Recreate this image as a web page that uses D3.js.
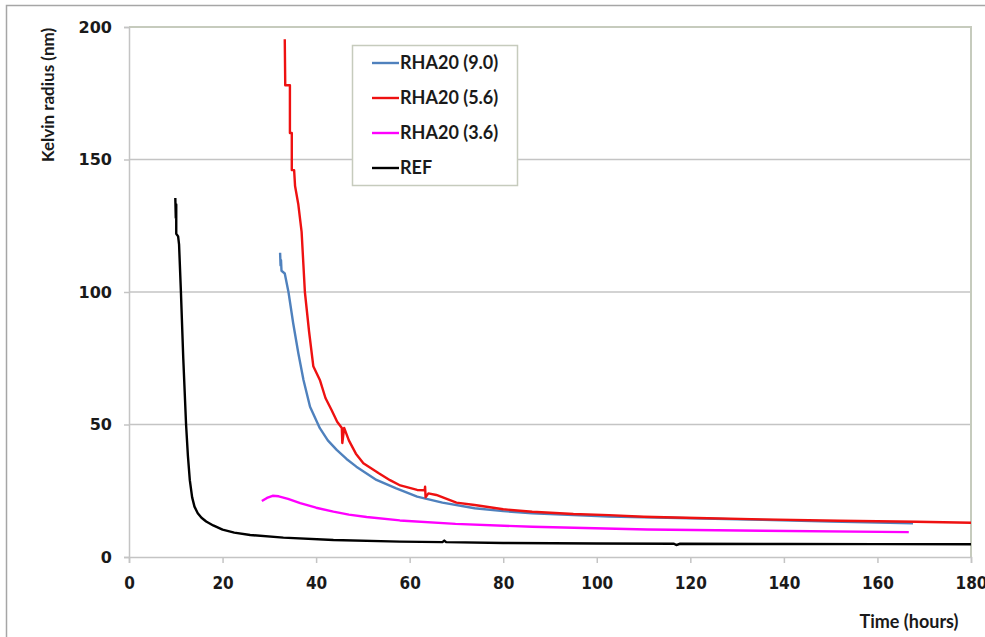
<!DOCTYPE html>
<meta charset="utf-8">
<style>
  body { margin: 0; background: #fff; }
</style>

<!-- Load d3.js -->
<script src="https://d3js.org/d3.v7.min.js"></script>

<div id="my_dataviz"></div>

<script>

// series names and colours
var seriesNames = ["RHA20 (9.0)", "RHA20 (5.6)", "RHA20 (3.6)", "REF"];
var seriesColors = ["#4f81bd", "#ee1111", "#ff00ff", "#000000"];

// [time (hours), kelvin radius (nm)]
var rha90 = [[32.3,114.8],[32.4,110],[32.5,112],[32.6,108],[33.3,107],[34.1,99.9],[35.1,88.2],[36.2,76.9],[37.3,66.8],[38.7,56.7],[40.8,48.6],[42.5,44],[44.4,40.4],[46.5,37],[48.6,34.1],[52.9,29.1],[57,26],[61.6,22.8],[67,20.5],[73.9,18.4],[80,17.3],[86.2,16.5],[102.6,15.3],[120,14.6],[135.4,14.0],[150,13.4],[167.6,12.7]];

var rha56 = [[33.3,195.4],[33.4,178],[34.4,178],[34.4,160],[34.8,160],[34.8,146],[35.3,146],[35.5,140],[36.2,133],[36.9,122.7],[37.6,100],[38.5,85],[39.4,72],[40.8,66.8],[42,60],[43.3,55.5],[44.5,51],[45.5,48.7],[45.6,43],[46,48.7],[47,44],[48.5,39],[50.1,35.4],[53.4,31.6],[55.8,29],[58,27],[61.6,25.3],[63.2,25.2],[63.3,26.5],[63.4,22.5],[64,24],[65.7,23.4],[70,20.5],[73.9,19.6],[80,18],[86.2,17.1],[95,16.2],[102.6,15.8],[110,15.2],[119,14.8],[135.4,14.2],[151.8,13.7],[168.2,13.3],[180,12.9]];

var rha36 = [[28.4,21.1],[29.5,22.3],[30.7,23.1],[32,22.9],[34,21.9],[36.6,20.3],[40,18.6],[43.7,17.1],[47,16.0],[50.8,15.1],[57.9,13.8],[69.8,12.5],[86.2,11.4],[110.8,10.4],[135.4,9.9],[166.7,9.4]];

var ref = [[9.9,135.5],[10.0,128],[10.1,133],[10.1,122],[10.5,121],[10.7,118],[11.1,100],[11.6,75],[12.2,50],[12.6,38],[13.0,29],[13.5,22.5],[14.0,19],[14.7,16.5],[15.5,14.8],[16.5,13.4],[18,11.9],[20,10.3],[22.5,9.2],[25.9,8.3],[33,7.3],[43.7,6.4],[57.9,5.8],[67,5.6],[67.4,6.2],[67.8,5.6],[80,5.3],[100,5.1],[116.5,5.0],[117,4.5],[117.8,5.0],[140,4.9],[160,4.85],[180,4.8]];

var xTicks = [0, 20, 40, 60, 80, 100, 120, 140, 160, 180];
var yTicks = [0, 50, 100, 150, 200];

var allSeries = [rha90, rha56, rha36, ref];

// dimensions of the page and the plot box
var W = 985, H = 637;
var plot = {left: 129, right: 971, top: 27, bottom: 557};

var svg = d3.select("#my_dataviz")
  .append("svg")
    .attr("width", W)
    .attr("height", H);

// outer frame
svg.append("rect")
  .attr("x", 6.5).attr("y", 5.5)
  .attr("width", W + 10).attr("height", H + 10)
  .attr("fill", "#fff")
  .attr("stroke", "#a6a6a6")
  .attr("stroke-width", 1.5);

var x = d3.scaleLinear().domain([0, 180]).range([plot.left, plot.right]);
var y = d3.scaleLinear().domain([0, 200]).range([plot.bottom, plot.top]);

// gridlines
svg.append("g")
  .selectAll("line")
  .data(yTicks.filter(function(d) { return d > 0 && d < 200; }))
  .enter().append("line")
    .attr("x1", plot.left).attr("x2", plot.right)
    .attr("y1", function(d) { return y(d); })
    .attr("y2", function(d) { return y(d); })
    .attr("stroke", "#c4c4c4")
    .attr("stroke-width", 1.5);

// plot border (top + right)
svg.append("path")
  .attr("d", "M" + plot.left + "," + plot.top + "H" + plot.right + "V" + plot.bottom)
  .attr("fill", "none")
  .attr("stroke", "#c6cbbd")
  .attr("stroke-width", 2);

// Y axis
var yAxis = svg.append("g")
  .attr("transform", "translate(" + plot.left + ",0)")
  .call(d3.axisLeft(y).tickValues(yTicks).tickSize(5).tickPadding(12).tickFormat(d3.format("d")));
yAxis.select(".domain").attr("stroke", "#c4c4c4").attr("stroke-width", 1.5);
yAxis.selectAll(".tick line").attr("stroke", "#c4c4c4").attr("stroke-width", 1.5);
yAxis.selectAll("text")
  .attr("fill", "#1a1a1a")
  .style("font-family", "'DejaVu Sans', sans-serif")
  .style("font-weight", "bold")
  .style("font-size", "16px");

// X axis
var xAxis = svg.append("g")
  .attr("transform", "translate(0," + plot.bottom + ")")
  .call(d3.axisBottom(x).tickValues(xTicks).tickSize(6).tickPadding(14).tickFormat(d3.format("d")));
xAxis.select(".domain").attr("stroke", "#c4c4c4").attr("stroke-width", 1.5);
xAxis.selectAll(".tick line").attr("stroke", "#c4c4c4").attr("stroke-width", 1.5);
xAxis.selectAll("text")
  .attr("fill", "#1a1a1a")
  .style("font-family", "'DejaVu Sans Condensed', 'DejaVu Sans', sans-serif")
  .style("font-stretch", "condensed")
  .style("font-weight", "bold")
  .style("font-size", "17px");

// lines
var line = d3.line()
  .x(function(d) { return x(d[0]); })
  .y(function(d) { return y(d[1]); });

// draw REF first so coloured series sit on top, as in the picture
[3, 2, 0, 1].forEach(function(i) {
  svg.append("path")
    .datum(allSeries[i])
    .attr("fill", "none")
    .attr("stroke", seriesColors[i])
    .attr("stroke-width", 2.4)
    .attr("stroke-linejoin", "round")
    .attr("d", line);
});

// axis titles
svg.append("text")
  .attr("transform", "translate(54,95) rotate(-90)")
  .attr("text-anchor", "middle")
  .style("font-family", "Lato, sans-serif")
  .style("font-weight", "bold")
  .style("font-size", "17px")
  .attr("fill", "#1a1a1a")
  .text("Kelvin radius (nm)");

svg.append("text")
  .attr("x", 909).attr("y", 628)
  .attr("text-anchor", "middle")
  .style("font-family", "Lato, sans-serif")
  .style("font-weight", "bold")
  .style("font-size", "18px")
  .attr("fill", "#1a1a1a")
  .text("Time (hours)");

// legend
var legend = svg.append("g");
legend.append("rect")
  .attr("x", 352.5).attr("y", 45.5)
  .attr("width", 165).attr("height", 140)
  .attr("fill", "#fff")
  .attr("stroke", "#c6cbbd")
  .attr("stroke-width", 1.5);

var legY = [63, 98, 133, 168];
seriesNames.forEach(function(name, i) {
  legend.append("line")
    .attr("x1", 372).attr("x2", 399)
    .attr("y1", legY[i]).attr("y2", legY[i])
    .attr("stroke", seriesColors[i])
    .attr("stroke-width", 2.4);
  legend.append("text")
    .attr("x", 400).attr("y", legY[i] + 6)
    .style("font-family", "Lato, sans-serif")
    .style("font-weight", "bold")
    .style("font-size", "18px")
    .attr("fill", "#1a1a1a")
    .text(name);
});

</script>
